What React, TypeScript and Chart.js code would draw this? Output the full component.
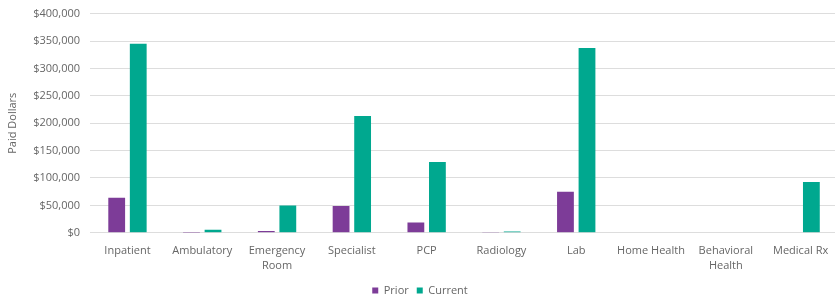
import React, { useEffect, useRef } from "react";
import { Chart, registerables } from "chart.js";

Chart.register(...registerables);

const categories: (string | string[])[] = [
  "Inpatient",
  "Ambulatory",
  ["Emergency", "Room"],
  "Specialist",
  "PCP",
  "Radiology",
  "Lab",
  "Home Health",
  ["Behavioral", "Health"],
  "Medical Rx",
];
const priorValues = [64000, 300, 3500, 49000, 19000, 500, 75000, 1200, 0, 0];
const currentValues = [345000, 5500, 50000, 213000, 129000, 2200, 337000, 900, 0, 92500];

const PURPLE = "#7D3C98";
const TEAL = "#00A88F";
const TEXT = "#666666";
const FONT = "'Open Sans', sans-serif";

export default function App() {
  const ref = useRef<HTMLCanvasElement | null>(null);
  useEffect(() => {
    if (!ref.current) return;
    const chart = new Chart(ref.current, {
      type: "bar",
      data: {
        labels: categories,
        datasets: [
          { label: "Prior", data: priorValues, backgroundColor: PURPLE },
          { label: "Current", data: currentValues, backgroundColor: TEAL },
        ],
      },
      options: {
        animation: false,
        responsive: true,
        maintainAspectRatio: false,
        datasets: { bar: { categoryPercentage: 0.576, barPercentage: 0.78 } },
        layout: { padding: { top: 3, left: 2, right: 0, bottom: 0 } },
        plugins: {
          legend: {
            position: "bottom",
            labels: {
              boxWidth: 6,
              boxHeight: 6,
              color: TEXT,
              font: { family: FONT, size: 11 },
              padding: 8,
            },
          },
          tooltip: { enabled: false },
        },
        scales: {
          x: {
            grid: { display: false },
            border: { display: false },
            ticks: {
              color: TEXT,
              font: { family: FONT, size: 11, lineHeight: 1.35 },
              maxRotation: 0,
              autoSkip: false,
            },
            afterFit: (scale: any) => {
              scale.height += 0.5;
            },
          },
          y: {
            min: 0,
            max: 400000,
            ticks: {
              stepSize: 50000,
              color: TEXT,
              font: { family: FONT, size: 11 },
              padding: 10,
              callback: (v: any) => "$" + Number(v).toLocaleString("en-US"),
            },
            grid: { color: "#dddddd", drawTicks: false },
            border: { display: false },
            title: { display: true, text: "Paid Dollars", color: TEXT, font: { family: FONT, size: 11 } },
          },
        },
      },
    });
    return () => chart.destroy();
  }, []);
  return (
    <div style={{ position: "fixed", left: 0, top: -3, width: 838, height: 309 }}>
      <canvas ref={ref} />
    </div>
  );
}
